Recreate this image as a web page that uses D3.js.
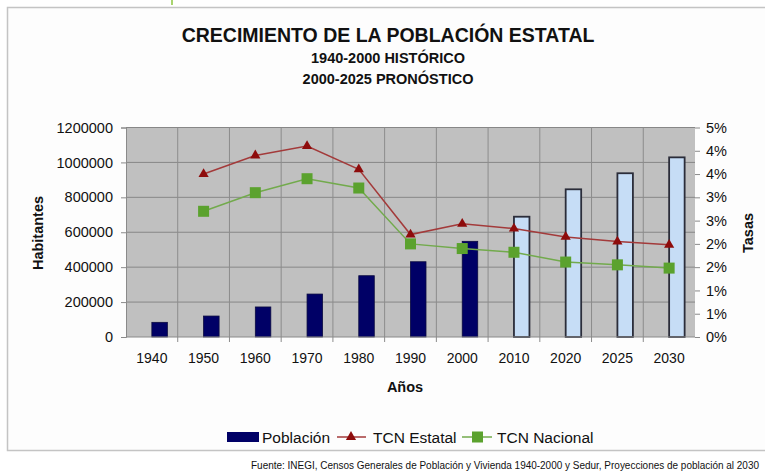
<!DOCTYPE html>
<html>
<head>
<meta charset="utf-8">
<script src="https://cdn.jsdelivr.net/npm/d3@7"></script>
<style>
  body { margin: 0; background: #ffffff; }
  text { font-family: Arial, "Liberation Sans", sans-serif; fill: #111; }
  .bold { font-weight: bold; }
</style>
</head>
<body>
<div id="chart"></div>
<script>
var years = ["1940", "1950", "1960", "1970", "1980", "1990", "2000", "2010", "2020", "2025", "2030"];
var poblacion = [84000, 120000, 172000, 246000, 351000, 431000, 548000, 689000, 846000, 938000, 1029000];
var historico = [true, true, true, true, true, true, true, false, false, false, false];
var tcnEstatal = [null, 3.5, 3.9, 4.1, 3.6, 2.2, 2.43, 2.33, 2.15, 2.05, 1.98];
var tcnNacional = [null, 2.7, 3.1, 3.4, 3.2, 2.0, 1.9, 1.82, 1.61, 1.55, 1.48];
var leftTicks = [0, 200000, 400000, 600000, 800000, 1000000, 1200000];
var rightTicks = [0, 0.5, 1, 1.5, 2, 2.5, 3, 3.5, 4, 4.5];
var rightTickLabels = ["0%", "1%", "1%", "2%", "2%", "3%", "3%", "4%", "4%", "5%"];

var svgWidth = 765;
var svgHeight = 475;

var margin = { top: 127.5, right: 70, bottom: 138, left: 126 };
var width = 695 - margin.left;
var height = 337 - margin.top;

var svg = d3.select("#chart")
    .append("svg")
    .attr("width", svgWidth)
    .attr("height", svgHeight);

// outer frame
svg.append("rect")
    .attr("x", 7.5).attr("y", 7.5)
    .attr("width", 800).attr("height", 443)
    .attr("fill", "#fdfdfd")
    .attr("stroke", "#c4c4c4")
    .attr("stroke-width", 1.5);

svg.append("line")
    .attr("x1", 172).attr("x2", 172).attr("y1", 0).attr("y2", 5)
    .attr("stroke", "#8dc63f").attr("stroke-width", 1.5);

svg.append("text").attr("class", "bold")
    .attr("x", 388).attr("y", 42)
    .attr("text-anchor", "middle")
    .style("font-size", "19.5px")
    .text("CRECIMIENTO DE LA POBLACIÓN ESTATAL");
svg.append("text").attr("class", "bold")
    .attr("x", 388).attr("y", 63)
    .attr("text-anchor", "middle")
    .style("font-size", "14.5px")
    .text("1940-2000 HISTÓRICO");
svg.append("text").attr("class", "bold")
    .attr("x", 388).attr("y", 84)
    .attr("text-anchor", "middle")
    .style("font-size", "14.5px")
    .text("2000-2025 PRONÓSTICO");

var chartGroup = svg.append("g")
    .attr("transform", `translate(${margin.left}, ${margin.top})`);

var xScale = d3.scaleBand()
    .domain(years)
    .range([0, width])
    .padding(0);

var yLeft = d3.scaleLinear()
    .domain([0, 1200000])
    .range([height, 0]);

var yRight = d3.scaleLinear()
    .domain([0, 4.5])
    .range([height, 0]);

chartGroup.append("rect")
    .attr("width", width)
    .attr("height", height)
    .attr("fill", "#c0c0c0");

// gridlines
chartGroup.selectAll(".hgrid")
    .data(leftTicks.slice(1))
    .enter()
    .append("line")
    .attr("x1", 0).attr("x2", width)
    .attr("y1", d => yLeft(d)).attr("y2", d => yLeft(d))
    .attr("stroke", "#878787").attr("stroke-width", 1);

chartGroup.selectAll(".vgrid")
    .data(years.slice(1))
    .enter()
    .append("line")
    .attr("x1", d => xScale(d)).attr("x2", d => xScale(d))
    .attr("y1", 0).attr("y2", height + 5)
    .attr("stroke", "#8c8c8c").attr("stroke-width", 1);

var barWidth = 15.5;
chartGroup.selectAll(".bar")
    .data(years)
    .enter()
    .append("rect")
    .attr("x", d => xScale(d) + xScale.bandwidth() / 2)
    .attr("y", (d, i) => yLeft(poblacion[i]))
    .attr("width", barWidth)
    .attr("height", (d, i) => height - yLeft(poblacion[i]))
    .attr("fill", (d, i) => historico[i] ? "#000066" : "#c6ddf6")
    .attr("stroke", (d, i) => historico[i] ? "#0a0a40" : "#2b2d3a")
    .attr("stroke-width", (d, i) => historico[i] ? 0.8 : 1.8);

// axes
var leftAxis = d3.axisLeft(yLeft).tickValues(leftTicks).tickFormat(d3.format("d")).tickSize(5).tickPadding(8);
var rightAxis = d3.axisRight(yRight).tickValues(rightTicks)
    .tickFormat((d, i) => rightTickLabels[i]).tickSize(5).tickPadding(6);

var YAxis = chartGroup.append("g").call(leftAxis);
var YAxis2 = chartGroup.append("g").attr("transform", `translate(${width}, 0)`).call(rightAxis);
[YAxis, YAxis2].forEach(function(ax) {
    ax.select(".domain").attr("stroke", "#8a8a8a");
    ax.selectAll(".tick line").attr("stroke", "#8a8a8a");
    ax.selectAll("text").style("font-size", "14.5px").attr("fill", "#111");
});
YAxis2.select(".domain").remove();

chartGroup.append("line")
    .attr("x1", 0).attr("x2", width)
    .attr("y1", height).attr("y2", height)
    .attr("stroke", "#8a8a8a");

chartGroup.selectAll(".xlabel")
    .data(years)
    .enter()
    .append("text")
    .attr("x", d => xScale(d) + xScale.bandwidth() / 2)
    .attr("y", height + 26)
    .attr("text-anchor", "middle")
    .style("font-size", "14px")
    .text(d => d);

// lines
var estatalPts = years.map((d, i) => ({ year: d, v: tcnEstatal[i] })).filter(d => d.v !== null);
var nacionalPts = years.map((d, i) => ({ year: d, v: tcnNacional[i] })).filter(d => d.v !== null);

var lineGen = d3.line()
    .x(d => xScale(d.year) + xScale.bandwidth() / 2)
    .y(d => yRight(d.v));

chartGroup.append("path")
    .datum(nacionalPts)
    .attr("d", lineGen)
    .attr("fill", "none")
    .attr("stroke", "#72aa4c")
    .attr("stroke-width", 1.5);

chartGroup.append("path")
    .datum(estatalPts)
    .attr("d", lineGen)
    .attr("fill", "none")
    .attr("stroke", "#a33a3a")
    .attr("stroke-width", 1.5);

chartGroup.selectAll(".sq")
    .data(nacionalPts)
    .enter()
    .append("rect")
    .attr("x", d => xScale(d.year) + xScale.bandwidth() / 2 - 5.5)
    .attr("y", d => yRight(d.v) - 5.5)
    .attr("width", 11).attr("height", 11)
    .attr("fill", "#5ba22e");

var tri = d3.symbol().type(d3.symbolTriangle).size(45);
chartGroup.selectAll(".tri")
    .data(estatalPts)
    .enter()
    .append("path")
    .attr("d", tri)
    .attr("transform", d => `translate(${xScale(d.year) + xScale.bandwidth() / 2}, ${yRight(d.v)})`)
    .attr("fill", "#8e0c0c");

// axis titles
svg.append("text").attr("class", "bold")
    .attr("transform", "translate(43, 233) rotate(-90)")
    .attr("text-anchor", "middle")
    .style("font-size", "14.5px")
    .text("Habitantes");
svg.append("text").attr("class", "bold")
    .attr("transform", "translate(753, 233) rotate(-90)")
    .attr("text-anchor", "middle")
    .style("font-size", "14.5px")
    .text("Tasas");
svg.append("text").attr("class", "bold")
    .attr("x", 405).attr("y", 392)
    .attr("text-anchor", "middle")
    .style("font-size", "14.5px")
    .text("Años");

// legend
var legend = svg.append("g").attr("transform", "translate(0, 437)");
legend.append("rect")
    .attr("x", 227).attr("y", -5).attr("width", 32).attr("height", 10)
    .attr("fill", "#000066");
legend.append("text").attr("x", 262).attr("y", 5.5).style("font-size", "15.5px").text("Población");
legend.append("line").attr("x1", 337).attr("x2", 366).attr("y1", 0).attr("y2", 0)
    .attr("stroke", "#a33a3a").attr("stroke-width", 1.5);
legend.append("path").attr("d", tri).attr("transform", "translate(351, 0)").attr("fill", "#8e0c0c");
legend.append("text").attr("x", 373).attr("y", 5.5).style("font-size", "15.5px").text("TCN Estatal");
legend.append("line").attr("x1", 462).attr("x2", 492).attr("y1", 0).attr("y2", 0)
    .attr("stroke", "#72aa4c").attr("stroke-width", 1.5);
legend.append("rect").attr("x", 472).attr("y", -5.5).attr("width", 11).attr("height", 11).attr("fill", "#5ba22e");
legend.append("text").attr("x", 497).attr("y", 5.5).style("font-size", "15.5px").text("TCN Nacional");

svg.append("text")
    .attr("x", 251).attr("y", 469)
    .attr("textLength", 508)
    .attr("lengthAdjust", "spacingAndGlyphs")
    .style("font-size", "10px")
    .text("Fuente: INEGI, Censos Generales de Población y Vivienda 1940-2000 y Sedur, Proyecciones de población al 2030");
</script>
</body>
</html>
